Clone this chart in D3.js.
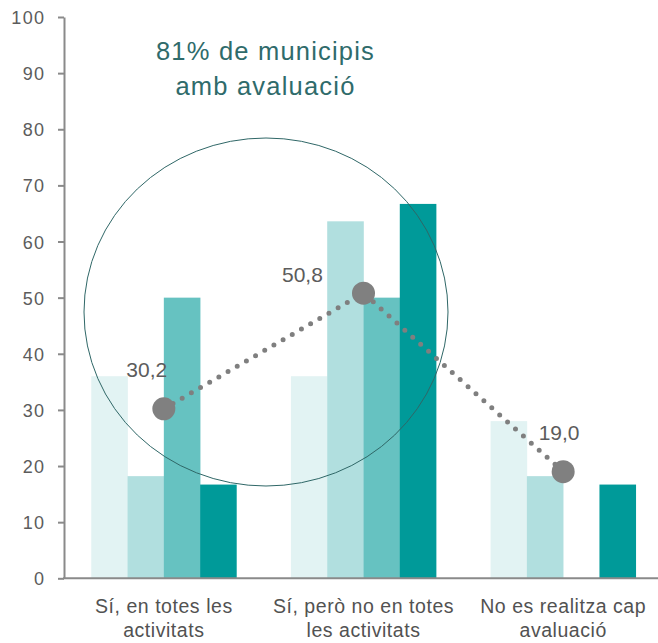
<!DOCTYPE html>
<html>
<head>
<meta charset="utf-8">
<script src="https://cdn.jsdelivr.net/npm/d3@7"></script>
<style>
  html, body { margin: 0; padding: 0; background: #fff; }
  svg { display: block; }
  text { font-family: "Liberation Sans", Arial, Helvetica, sans-serif; }
</style>
</head>
<body>
<svg id="chart" width="658" height="643"></svg>
<script>
// ---- data ----
const categories = [
  ["Sí, en totes les", "activitats"],
  ["Sí, però no en totes", "les activitats"],
  ["No es realitza cap", "avaluació"]
];
const series1 = [36.0, 36.0, 28.0];
const series2 = [18.2, 63.6, 18.2];
const series3 = [50.0, 50.0, 0.0];
const series4 = [16.7, 66.7, 16.7];
const totals = [30.2, 50.8, 19.0];
const totalLabels = ["30,2", "50,8", "19,0"];
const yTicks = [0, 10, 20, 30, 40, 50, 60, 70, 80, 90, 100];
const titleLines = ["81% de municipis", "amb avaluació"];
const seriesColors = ["#E2F3F3", "#B1DFDF", "#66C2C1", "#009A99"];

// ---- layout ----
const svg = d3.select("#chart");
const x0 = 64, x1 = 663, yBottom = 578.3, yTop = 17;
const allSeries = [series1, series2, series3, series4];

const x = d3.scaleBand()
  .domain(d3.range(categories.length))
  .range([x0, x1])
  .paddingInner(0.273)
  .paddingOuter(0.1365);
const xs = d3.scaleBand()
  .domain(d3.range(allSeries.length))
  .range([0, x.bandwidth()]);
const y = d3.scaleLinear().domain([0, 100]).range([yBottom, yTop]);

// bars
allSeries.forEach((s, si) => {
  svg.append("g").selectAll("rect").data(s).join("rect")
    .attr("x", (d, i) => x(i) + xs(si))
    .attr("width", xs.bandwidth() + 0.3)
    .attr("y", d => y(d))
    .attr("height", d => yBottom - y(d))
    .attr("fill", seriesColors[si]);
});

// y axis
const yAxis = svg.append("g")
  .attr("transform", `translate(${x0},0)`)
  .call(d3.axisLeft(y).tickValues(yTicks).tickSize(6).tickPadding(12.5).tickSizeOuter(0));
yAxis.select(".domain").attr("stroke", "#8a8a8a").attr("stroke-width", 2);
yAxis.selectAll(".tick line").attr("stroke", "#8a8a8a").attr("stroke-width", 2);
yAxis.selectAll(".tick text")
  .attr("fill", "#5c5c5c")
  .attr("dy", "0.36em")
  .style("font-size", "18px")
  .style("letter-spacing", "1.4px")
  .style("font-family", "'Liberation Sans', Arial, sans-serif");

// x axis line
svg.append("line")
  .attr("x1", x0 - 1).attr("x2", 658)
  .attr("y1", yBottom).attr("y2", yBottom)
  .attr("stroke", "#8a8a8a").attr("stroke-width", 2);

// category labels
categories.forEach((lines, i) => {
  const t = svg.append("text")
    .attr("x", x(i) + x.bandwidth() / 2)
    .attr("y", 613.3)
    .attr("text-anchor", "middle")
    .attr("fill", "#525252")
    .style("font-size", "19.5px")
    .style("letter-spacing", "0.55px");
  lines.forEach((l, j) => {
    t.append("tspan").attr("x", x(i) + x.bandwidth() / 2).attr("dy", j === 0 ? 0 : 24).text(l);
  });
});

// ellipse annotation
svg.append("ellipse")
  .attr("cx", 266).attr("cy", 312)
  .attr("rx", 182).attr("ry", 174)
  .attr("fill", "none")
  .attr("stroke", "#2F6767")
  .attr("stroke-width", 1);

// dotted line
const cx = i => x(i) + x.bandwidth() / 2;
const line = d3.line().x((d, i) => cx(i)).y(d => y(d));
svg.append("path")
  .datum(totals)
  .attr("d", line)
  .attr("fill", "none")
  .attr("stroke", "#7f7f7f")
  .attr("stroke-width", 5)
  .attr("stroke-linecap", "round")
  .attr("stroke-dasharray", "0 10.6");

svg.append("g").selectAll("circle").data(totals).join("circle")
  .attr("cx", (d, i) => cx(i))
  .attr("cy", d => y(d))
  .attr("r", 11.5)
  .attr("fill", "#808080");

// total labels
const labelOffsets = [[-37.5, -32], [-81.5, -11.5], [-24.5, -31.6]];
svg.append("g").selectAll("text").data(totals).join("text")
  .attr("x", (d, i) => cx(i) + labelOffsets[i][0])
  .attr("y", (d, i) => y(d) + labelOffsets[i][1])
  .attr("fill", "#5c5c5c")
  .style("font-size", "21px")
  .text((d, i) => totalLabels[i]);

// title
titleLines.forEach((l, j) => {
  svg.append("text")
    .attr("x", 265.5).attr("y", 60 + j * 34.5)
    .attr("text-anchor", "middle")
    .attr("fill", "#2F6B6B")
    .style("font-size", "25.5px")
    .style("letter-spacing", "1.2px")
    .text(l);
});
</script>
</body>
</html>
